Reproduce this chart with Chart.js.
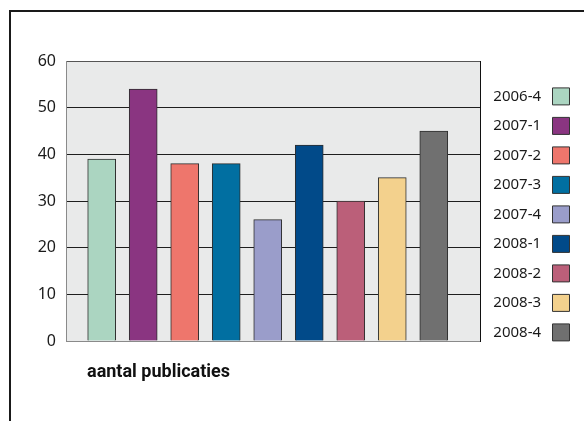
<!DOCTYPE html>
<html>
<head>
<meta charset="utf-8">
<script src="https://cdn.jsdelivr.net/npm/chart.js@4.4.1/dist/chart.umd.min.js"></script>
<style>
  html, body { margin: 0; padding: 0; background: #fff; }
  #wrap { position: relative; width: 584px; height: 421px; overflow: hidden; }
  #frame { position: absolute; left: 9px; top: 10px; width: 600px; height: 500px;
           border-top: 2px solid #1a1a1a; border-left: 2px solid #1a1a1a; box-sizing: border-box; }
  #c { position: absolute; left: 0; top: 0; }
</style>
</head>
<body>
<div id="wrap">
  <div id="frame"></div>
  <canvas id="c" width="584" height="421"></canvas>
</div>
<script>
const categories = ['2006-4', '2007-1', '2007-2', '2007-3', '2007-4', '2008-1', '2008-2', '2008-3', '2008-4'];
const values = [39, 54, 38, 38, 26, 42, 30, 35, 45];
const barColors = ['#abd5c1', '#8a3581', '#ee766c', '#016fa1', '#9a9dca', '#014a89', '#bb5f79', '#f3d18d', '#707070'];
const yTicks = [0, 10, 20, 30, 40, 50, 60];
const caption = 'aantal publicaties';

const plotBg = {
  id: 'plotBg',
  beforeDraw(chart) {
    const {ctx, chartArea: a} = chart;
    ctx.save();
    ctx.fillStyle = '#e9eaea';
    ctx.fillRect(a.left, a.top, a.right - a.left, a.bottom - a.top);
    ctx.restore();
  }
};
const captionPlugin = {
  id: 'caption',
  afterDraw(chart) {
    const {ctx, chartArea: a} = chart;
    ctx.save();
    ctx.font = 'bold 18px Roboto';
    ctx.fillStyle = '#111';
    ctx.textAlign = 'left';
    ctx.textBaseline = 'alphabetic';
    ctx.fillText(caption, a.left + 21, a.bottom + 36);
    ctx.restore();
  }
};

new Chart(document.getElementById('c'), {
  type: 'bar',
  data: {
    datasets: [{
      data: values.map((v, i) => ({x: i + 1, y: v})),
      backgroundColor: barColors,
      borderColor: '#2e2e2e',
      borderWidth: 1,
      barThickness: 28
    }]
  },
  options: {
    responsive: false,
    animation: false,
    devicePixelRatio: 1,
    layout: { padding: { top: 61, right: 2, bottom: 20, left: 10 } },
    scales: {
      x: {
        type: 'linear', min: 0.14, max: 10.13,
        offset: false,
        display: true,
        grid: { display: false, offset: false },
        border: { display: false },
        ticks: { display: false },
        afterFit: s => { s.height = 60; }
      },
      y: {
        position: 'left',
        min: 0, max: 60,
        afterBuildTicks: s => { s.ticks = yTicks.map(v => ({value: v})); },
        afterFit: s => { s.width = 56; },
        grid: {
          drawTicks: false,
          color: c => c.tick.value === 0 ? '#8a8a8a' : (c.tick.value === 60 ? '#555' : '#1e1e1e'),
          lineWidth: 1
        },
        border: { color: '#8a8a8a' },
        ticks: { padding: 10, color: '#1a1a1a', font: { family: 'Noto Sans', size: 16 } }
      },
      y2: {
        position: 'right',
        min: 0, max: 60,
        grid: { display: false },
        ticks: { display: false },
        border: { color: '#111' },
        afterFit: s => { s.width = 6; }
      }
    },
    plugins: {
      tooltip: { enabled: false },
      legend: {
        position: 'right',
        align: 'start',
        rtl: true,
        title: { display: true, text: ' ', font: { size: 12 }, padding: { top: 0, bottom: 0 } },
        labels: {
          boxWidth: 17,
          boxHeight: 17,
          padding: 12.5,
          color: '#1a1a1a',
          font: { family: 'Noto Sans', size: 15 },
          generateLabels: () => categories.map((c, i) => ({
            text: c + ' ',
            fillStyle: barColors[i],
            strokeStyle: '#333',
            fontColor: '#1a1a1a',
            lineWidth: 1,
            hidden: false,
            index: i
          }))
        }
      }
    }
  },
  plugins: [plotBg, captionPlugin]
});
</script>
</body>
</html>
